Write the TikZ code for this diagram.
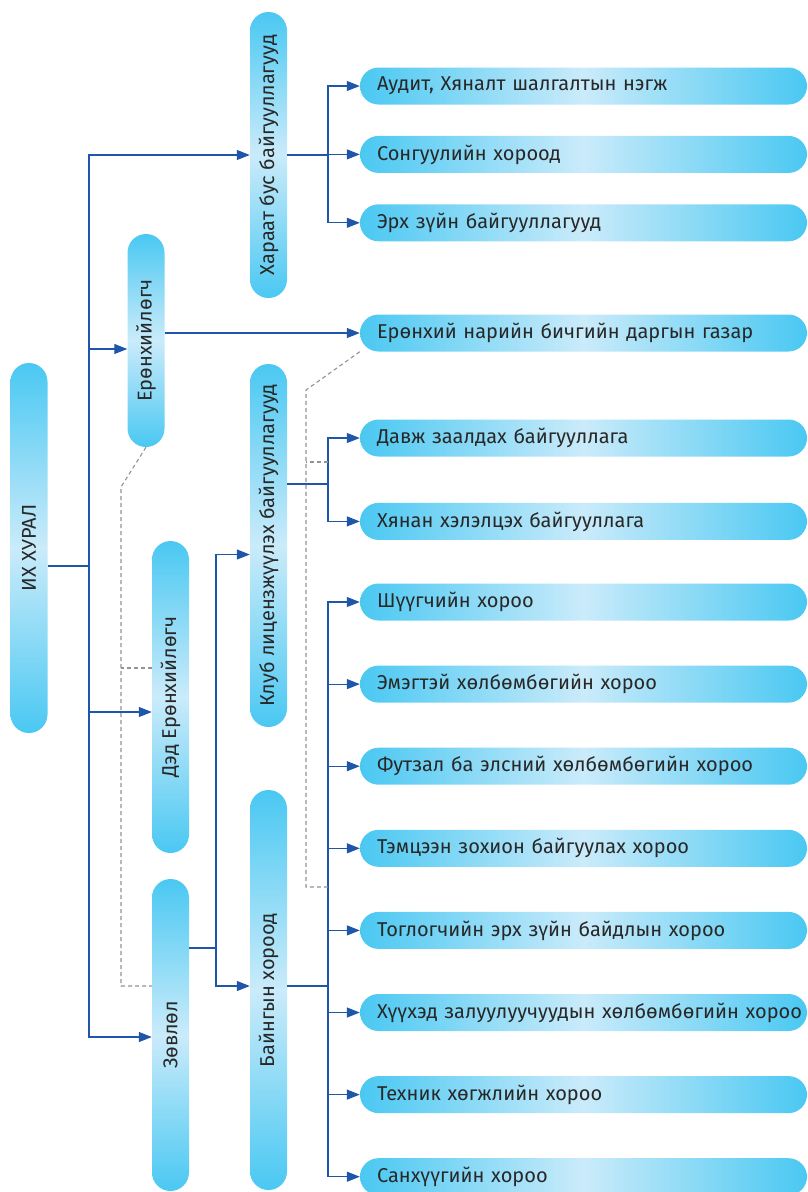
\documentclass[tikz,border=0pt]{standalone}
\usepackage{fontspec}
\setmainfont{Fira Sans}
\usepackage{graphicx}
\usetikzlibrary{arrows.meta,positioning,calc}
\definecolor{pillend}{RGB}{74,200,242}
\definecolor{pillmid}{RGB}{202,235,250}
\definecolor{linkblue}{RGB}{30,86,170}
\definecolor{txtgray}{RGB}{40,40,40}
\tikzset{
    %Define standard arrow tip
    >={Triangle[length=13pt,width=10pt]},
    %Define style for horizontal boxes
    hpill/.style={
           rectangle,
           rounded corners=18.5pt,
           left color=pillend, right color=pillend, middle color=pillmid,
           minimum height=37pt,
           text width=413pt,
           inner xsep=17pt, inner ysep=0pt,
           align=left,
           execute at begin node=\hbox\bgroup,
           execute at end node=\egroup,
           font=\fontsize{20}{23}\selectfont,
           text=txtgray},
    %Define style for vertical boxes
    vpill/.style={
           rectangle,
           rounded corners=18.5pt,
           top color=pillend, bottom color=pillend, middle color=pillmid,
           minimum width=37pt,
           inner sep=0pt,
           font=\fontsize{20}{23}\selectfont,
           text=txtgray},
    % Define arrow style
    arr/.style={
           ->,
           draw=linkblue,
           line width=1.2pt},
    link/.style={
           draw=linkblue,
           line width=1.2pt},
    dashlink/.style={
           draw=gray!85,
           line width=1.1pt,
           dash pattern=on 4pt off 3pt}
}

\begin{document}
\begin{tikzpicture}[x=1pt,y=-1pt]
  \useasboundingbox (0,0) rectangle (808,1192);

  % vertical boxes
  \node[vpill, minimum height=370pt] (congress) at (29,548) {\rotatebox{90}{ИХ ХУРАЛ}};
  \node[vpill, minimum height=213pt] (pres) at (146,340.5) {\rotatebox{90}{Ерөнхийлөгч}};
  \node[vpill, minimum height=312pt] (vpres) at (170.5,697) {\rotatebox{90}{Дэд Ерөнхийлөгч}};
  \node[vpill, minimum height=312pt] (council) at (170.5,1035) {\rotatebox{90}{Зөвлөл}};
  \node[vpill, minimum height=286pt] (indep) at (268.5,155) {\rotatebox{90}{Хараат бус байгууллагууд}};
  \node[vpill, minimum height=363pt] (license) at (268.5,545.5) {\rotatebox{90}{Клуб лицензжүүлэх байгууллагууд}};
  \node[vpill, minimum height=400pt] (standing) at (268.5,990) {\rotatebox{90}{Байнгын хороод}};

  % horizontal boxes
  \node[hpill] (aud) at (583.5,86) {Аудит, Хяналт шалгалтын нэгж};
  \node[hpill, below=31pt of aud] (elect) {Сонгуулийн хороод};
  \node[hpill, below=31pt of elect] (legal) {Эрх зүйн байгууллагууд};
  \node[hpill] (gsec) at (583.5,333) {Ерөнхий нарийн бичгийн даргын газар};
  \node[hpill] (appeal) at (583.5,438) {Давж заалдах байгууллага};
  \node[hpill, below=46pt of appeal] (review) {Хянан хэлэлцэх байгууллага};
  \node[hpill] (judge) at (583.5,602) {Шүүгчийн хороо};
  \node[hpill, below=44.7pt of judge] (women) {Эмэгтэй хөлбөмбөгийн хороо};
  \node[hpill, below=44.7pt of women] (futsal) {Футзал ба элсний хөлбөмбөгийн хороо};
  \node[hpill, below=44.7pt of futsal] (comp) {Тэмцээн зохион байгуулах хороо};
  \node[hpill, below=44.7pt of comp] (player) {Тоглогчийн эрх зүйн байдлын хороо};
  \node[hpill, below=44.7pt of player] (youth) {Хүүхэд залуулуучуудын хөлбөмбөгийн хороо};
  \node[hpill, below=44.7pt of youth] (tech) {Техник хөгжлийн хороо};
  \node[hpill, below=44.7pt of tech] (finance) {Санхүүгийн хороо};

  % junctions
  \coordinate (jmain) at (89,566);
  \coordinate (jindep) at (328,155);
  \coordinate (jlic) at (328,484);
  \coordinate (jcouncil) at (216,948);
  \coordinate (jstand) at (328,986);

  % ИХ ХУРАЛ
  \draw[link] (congress.east |- jmain) -- (jmain);
  \draw[arr] (jmain) |- (indep.west);
  \draw[arr] (jmain) |- ($(pres.west)+(0,8.5)$);
  \draw[arr] (jmain) |- ($(vpres.west)+(0,15)$);
  \draw[arr] (jmain) |- ($(council.west)+(0,2)$);

  % independent bodies
  \draw[link] (indep.east) -- (jindep);
  \foreach \n in {aud,elect,legal}
    \draw[arr] (jindep) |- (\n.west);

  \draw[arr] (pres.east |- gsec.west) -- (gsec.west);

  % club licensing
  \draw[link] (license.east |- jlic) -- (jlic);
  \foreach \n in {appeal,review}
    \draw[arr] (jlic) |- (\n.west);

  % council
  \draw[link] (council.east |- jcouncil) -- (jcouncil);
  \draw[arr] (jcouncil) |- ($(license.west)+(0,9)$);
  \draw[arr] (jcouncil) |- (standing.west |- jstand);

  % standing committees
  \draw[link] (standing.east |- jstand) -- (jstand);
  \foreach \n in {judge,women,futsal,comp,player,youth,tech,finance}
    \draw[arr] (jstand) |- (\n.west);

  % dashed links
  \coordinate (dbend1) at (121,487);
  \coordinate (dvp) at ($(vpres.west)+(0,-29)$);
  \coordinate (dco) at ($(council.west)+(0,-49)$);
  \draw[dashlink] (pres.south) -- (dbend1) |- (dco);
  \draw[dashlink] (dvp) -- (dbend1 |- dvp);

  \coordinate (dbend2) at (306,390);
  \coordinate (dmid) at (328,462);
  \coordinate (dlow) at (328,887);
  \draw[dashlink] (gsec.south west) -- (dbend2) |- (dlow);
  \draw[dashlink] (dmid) -- (dbend2 |- dmid);
\end{tikzpicture}
\end{document}
